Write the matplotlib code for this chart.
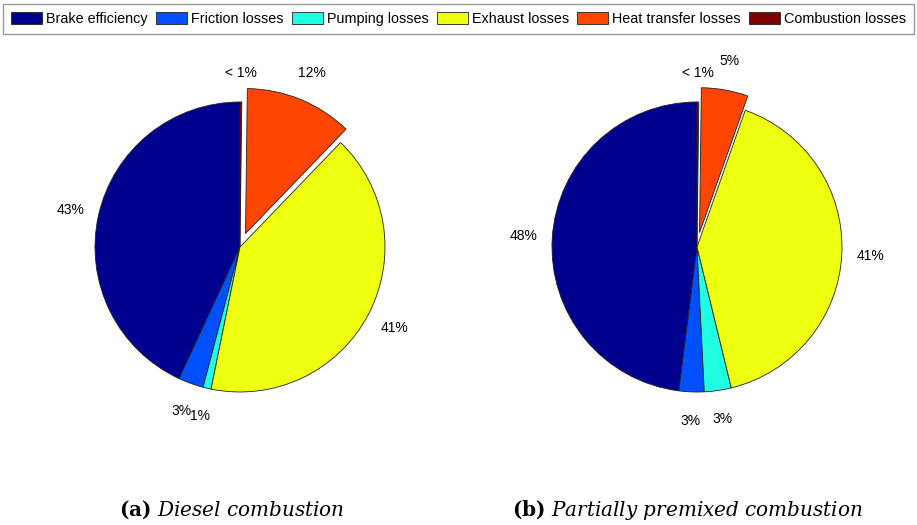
import matplotlib
matplotlib.use("Agg")
import matplotlib.pyplot as plt

categories = ["Brake efficiency", "Friction losses", "Pumping losses",
              "Exhaust losses", "Heat transfer losses", "Combustion losses"]
diesel_values = [43.1, 2.8, 0.9, 41.0, 12.0, 0.2]
diesel_labels = ["43%", "3%", "1%", "41%", "12%", "< 1%"]
ppc_values = [48.0, 2.8, 3.0, 40.8, 5.2, 0.2]
ppc_labels = ["48%", "3%", "3%", "41%", "5%", "< 1%"]
explode = [0, 0, 0, 0, 0.1, 0]
colors = ["#00008F", "#0050FF", "#20FFDF", "#EFFF10", "#FF4500", "#800000"]
captions = [r"$\mathbf{(a)}\ \mathit{Diesel\ combustion}$",
            r"$\mathbf{(b)}\ \mathit{Partially\ premixed\ combustion}$"]

plt.rcParams["font.family"] = ["Liberation Sans", "DejaVu Sans"]
plt.rcParams["mathtext.fontset"] = "dejavuserif"

W, H = 917, 525
fig = plt.figure(figsize=(W / 100, H / 100), dpi=100)

R = 145.0
half = 200.0
L = half / R
centers = [(240, 247), (697, 247)]
cap_x = [232, 687]
all_vals = [diesel_values, ppc_values]
all_labels = [diesel_labels, ppc_labels]

wedges_first = None
for (cx, cy), capx, vals, labs, cap in zip(centers, cap_x, all_vals, all_labels, captions):
    ax = fig.add_axes([(cx - half) / W, (H - cy - half) / H, 2 * half / W, 2 * half / H])
    wedges, texts = ax.pie(vals, labels=labs, colors=colors, explode=explode,
                           startangle=90, counterclock=True, labeldistance=1.2,
                           wedgeprops=dict(edgecolor="#202020", linewidth=0.6),
                           textprops=dict(fontsize=10))
    for t in texts:
        t.set_horizontalalignment("center")
        t.set_verticalalignment("center")
    ax.set_xlim(-L, L)
    ax.set_ylim(-L, L)
    ax.set_aspect("equal", adjustable="box")
    ax.axis("off")
    if wedges_first is None:
        wedges_first = wedges
    fig.text(capx / W, 15 / H, cap, ha="center", va="center", fontsize=14.4)

leg = fig.legend(wedges_first, categories, loc="upper left", ncol=6,
                 bbox_to_anchor=(3 / W, 1 - 4 / H, 911 / W, 0.0001), mode="expand",
                 fontsize=10.4, frameon=True, fancybox=False, edgecolor="#808080",
                 handlelength=2.15, handleheight=0.97, handletextpad=0.3,
                 columnspacing=0.7, borderpad=0.54, borderaxespad=0)
leg.get_frame().set_linewidth(1.0)

fig.savefig("out.png", dpi=100)
